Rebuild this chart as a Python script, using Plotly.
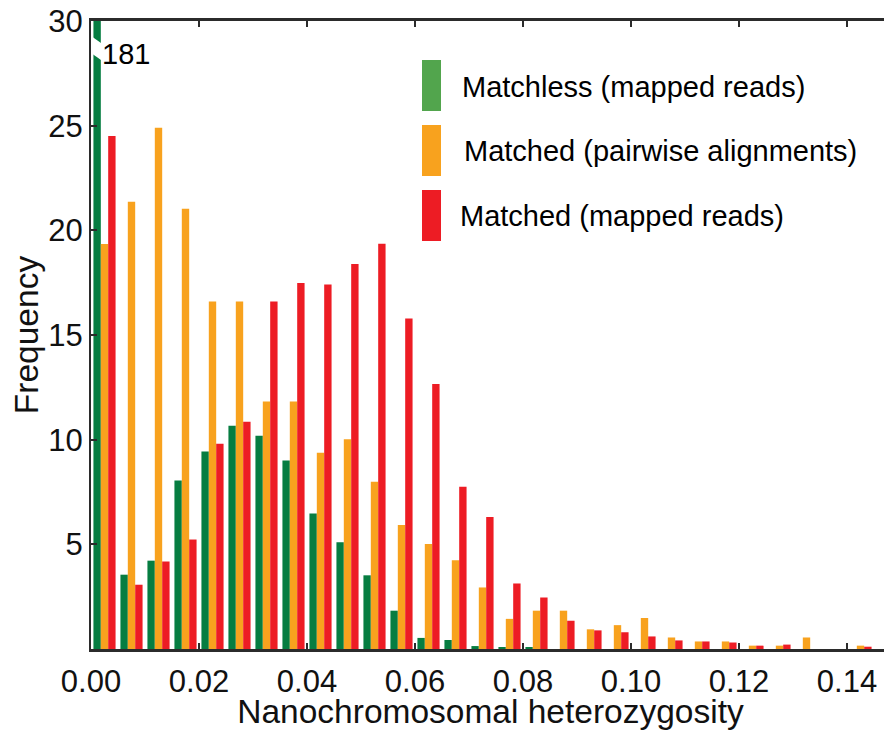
import plotly.graph_objects as go

# Bin centres of the histogram (heterozygosity)
bin_centers = [0.0025, 0.0075, 0.0125, 0.0175, 0.0225, 0.0275, 0.0325, 0.0375,
               0.0425, 0.0475, 0.0525, 0.0575, 0.0625, 0.0675, 0.0725, 0.0775,
               0.0825, 0.0875, 0.0925, 0.0975, 0.1025, 0.1075, 0.1125, 0.1175,
               0.1225, 0.1275, 0.1325, 0.1375, 0.1425]

matchless_mapped = [181, 3.55, 4.22, 8.05, 9.43, 10.67, 10.19, 9.00, 6.47, 5.10,
                    3.52, 1.83, 0.53, 0.43, 0.14, 0.05, 0.05, 0, 0, 0,
                    0, 0, 0, 0, 0, 0, 0, 0, 0]
matched_pairwise = [19.35, 21.36, 24.90, 21.03, 16.60, 16.60, 11.82, 11.82, 9.38, 10.02,
                    7.99, 5.92, 5.01, 4.24, 2.94, 1.44, 1.83, 1.83, 0.94, 1.14,
                    1.48, 0.55, 0.36, 0.36, 0.16, 0.16, 0.55, 0, 0.16]
matched_mapped = [24.51, 3.07, 4.18, 5.23, 9.81, 10.85, 16.60, 17.49, 17.41, 18.39,
                  19.36, 15.79, 12.66, 7.75, 6.31, 3.13, 2.46, 1.35, 0.89, 0.80,
                  0.60, 0.41, 0.36, 0.31, 0.16, 0.21, 0, 0, 0.11]

series_names = ["Matchless (mapped reads)", "Matched (pairwise alignments)",
                "Matched (mapped reads)"]
x_ticks = [0.00, 0.02, 0.04, 0.06, 0.08, 0.10, 0.12, 0.14]
y_ticks = [5, 10, 15, 20, 25, 30]
broken_label = "181"

FONT = "Liberation Sans, Arial, Helvetica, sans-serif"
GREEN = "#067D41"
GREEN_LEG = "#52A54D"
ORANGE = "#F8A21E"
RED = "#ED1C24"
AXC = "#2b2b2b"

fig = go.Figure()
for vals, name, col in [(matchless_mapped, series_names[0], GREEN),
                        (matched_pairwise, series_names[1], ORANGE),
                        (matched_mapped, series_names[2], RED)]:
    fig.add_trace(go.Bar(x=bin_centers, y=vals, name=name,
                         marker=dict(color=col, line=dict(width=0))))

# screen px -> data helpers for decorations
def dx(px):
    return (px - 91) / 5400.0

def dy(py):
    return (649 - py) / 20.93

shapes = []
# axis-break notch on the first green bar
shapes.append(dict(type="path", xref="x", yref="y",
                   path=f"M {dx(92.5)},{dy(37)} L {dx(101)},{dy(43)} L {dx(101)},{dy(60)} L {dx(92.5)},{dy(54)} Z",
                   fillcolor="white", line=dict(width=0), layer="above"))

annotations = [dict(x=dx(126), y=dy(54), xref="x", yref="y", text=broken_label,
                    showarrow=False, font=dict(family=FONT, size=29, color="black"))]

# custom legend (tall colour bars + labels)
leg_rows = [(60, 111, GREEN_LEG, series_names[0], 460, 87),
            (125, 176, ORANGE, series_names[1], 462, 151),
            (190, 241, RED, series_names[2], 458, 216)]
for top, bot, col, name, tx, ty in leg_rows:
    shapes.append(dict(type="rect", xref="x", yref="y", x0=dx(422), x1=dx(441),
                       y0=dy(bot), y1=dy(top), fillcolor=col, line=dict(width=0),
                       layer="above"))
    annotations.append(dict(x=dx(tx), y=dy(ty), xref="x", yref="y", text=name,
                            showarrow=False, xanchor="left", yanchor="middle",
                            font=dict(family=FONT, size=29, color="black")))

# page body has an 8px default margin; size the figure to fit the 892x730 window
fig.update_layout(
    width=884, height=722,
    margin=dict(l=83, r=2, t=13, b=81, autoexpand=False),
    paper_bgcolor="white", plot_bgcolor="white",
    barmode="group", bargap=0.18, bargroupgap=0,
    showlegend=False,
    font=dict(family=FONT, color="black"),
    shapes=shapes, annotations=annotations,
    xaxis=dict(range=[0, dx(890)], tickvals=x_ticks, tickformat=".2f",
               ticks="inside", ticklen=6, tickwidth=2, tickcolor=AXC,
               showline=True, linecolor=AXC, linewidth=2.5, mirror="ticks",
               showgrid=False, zeroline=False, ticklabelstandoff=3,
               ticklabeloverflow="allow",
               tickfont=dict(family=FONT, size=31, color="#111"),
               title=dict(text="Nanochromosomal heterozygosity",
                          font=dict(family=FONT, size=33.5, color="#111"),
                          standoff=7)),
    yaxis=dict(range=[0, 30], tickvals=y_ticks, ticks="inside", ticklen=6,
               tickwidth=2, tickcolor=AXC, showline=True, linecolor=AXC,
               linewidth=2, mirror=False, showgrid=False, zeroline=False,
               ticklabeloverflow="allow",
               tickfont=dict(family=FONT, size=31, color="#111"),
               title=dict(text="Frequency",
                          font=dict(family=FONT, size=33.5, color="#111"),
                          standoff=2)),
)

fig.write_html("out.html")
